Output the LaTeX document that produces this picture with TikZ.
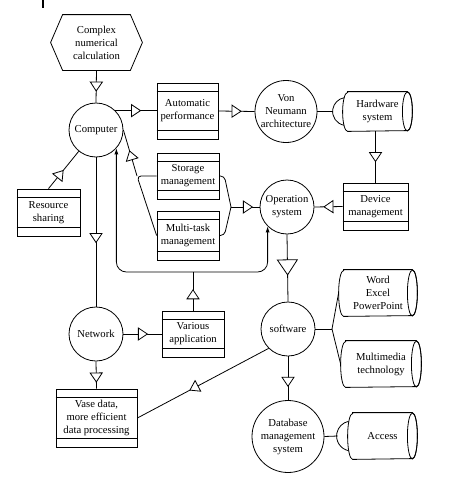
\documentclass[tikz,border=0pt]{standalone}
\usepackage{fontspec}
\setmainfont{Liberation Serif}
\usetikzlibrary{decorations.markings,arrows.meta,calc}

\begin{document}
\begin{tikzpicture}[x=0.75pt,y=0.75pt,yscale=-1,xscale=1,line width=0.6pt,
  every node/.style={font=\fontsize{8}{9.75}\selectfont,align=center,inner sep=0pt},
  circ/.style={circle,draw,fill=white,minimum size=40.5pt},
  procbox/.style={rectangle,draw,fill=white},
  tri/.style={postaction={decorate,decoration={markings,mark=at position #1 with {\draw[fill=white] (4.5,0) -- (-4.5,6) -- (-4.5,-6) -- cycle;}}}},
  bigtri/.style={postaction={decorate,decoration={markings,mark=at position #1 with {\draw[fill=white] (7.5,0) -- (-7.5,10) -- (-7.5,-10) -- cycle;}}}},
  twoway/.style={{Latex[length=4.5pt,width=3pt]}-{Latex[length=4.5pt,width=3pt]},rounded corners=7.5pt}]
\useasboundingbox (0,0) rectangle (459,489);

%Straight Lines
\draw [line width=1.5pt] (43,0) -- (43,8) ;

%Shape: Hexagon
\node (Complex) at (96.5,42.5) [minimum width=68.25pt,minimum height=41.25pt] {Complex\\numerical\\calculation};
\draw ($(Complex.north west)+(12,0)$) -- ($(Complex.north east)+(-12,0)$) -- (Complex.east) -- ($(Complex.south east)+(-12,0)$) -- ($(Complex.south west)+(12,0)$) -- (Complex.west) -- cycle ;

%Shape: Circle
\node [circ] (Computer) at (96,130) {Computer};
\node [circ,minimum size=46.5pt] (VonNeumann) at (286,111.5) {Von\\Neumann\\architecture};
\node [circ] (OS) at (287,207) {Operation\\system};
\node [circ] (Network) at (96,334) {Network};
\node [circ] (Software) at (288,329) {software};
\node [circ,minimum size=54pt] (DBMS) at (288,436.5) {Database\\management\\system};

%Shape: Rectangle
\node [procbox,minimum width=45.75pt,minimum height=42pt] (Automatic) at (187.5,111) {Automatic\\performance};
\node [procbox,minimum width=46.5pt,minimum height=34.5pt] (Storage) at (188,176) {Storage\\management};
\node [procbox,minimum width=46.5pt,minimum height=36.75pt] (Multitask) at (188,235.5) {Multi-task\\management};
\node [procbox,minimum width=47.25pt,minimum height=35.25pt] (Resource) at (48.5,212.5) {Resource\\sharing};
\node [procbox,minimum width=48.75pt,minimum height=35.25pt] (Device) at (375.5,206.5) {Device\\management};
\node [procbox,minimum width=46.5pt,minimum height=34.5pt] (Various) at (193,334) {Various\\application};
\node [procbox,minimum width=60.75pt,minimum height=43.5pt] (Vase) at (96.5,418) {Vase data,\\more efficient\\data processing};
\foreach \b in {Automatic,Storage,Multitask,Resource,Device,Various,Vase}
  \draw ($(\b.north west)+(0,9)$) -- ($(\b.north east)+(0,9)$) ($(\b.south west)+(0,-9)$) -- ($(\b.south east)+(0,-9)$) ;

%Shape: Can
\node [minimum width=51.75pt,minimum height=29.25pt] (Hardware) at (377.5,111.5) {Hardware\\system};
\node [minimum width=58.5pt,minimum height=34.5pt] (Office) at (378,293) {Word\\Excel\\PowerPoint};
\node [minimum width=60pt,minimum height=34.5pt] (Multimedia) at (381,364) {Multimedia\\technology};
\node [minimum width=51.75pt,minimum height=34.5pt] (Access) at (382.5,436) {Access};
\foreach \c/\r in {Hardware/19.5,Office/23,Multimedia/23,Access/23}{
  \draw ($(\c.north west)+(5,0)$) -- ($(\c.north east)+(-5,0)$) arc [start angle=-90,end angle=90,x radius=5,y radius=\r] -- ($(\c.south west)+(5,0)$) arc [start angle=90,end angle=270,x radius=5,y radius=\r] -- cycle ;
  \draw ($(\c.east)+(-5,0)$) ellipse [x radius=5,y radius=\r] ;
}

\coordinate (f1) at (137,176);
\coordinate (f2) at (231,207);
\coordinate (f3) at (332,329);
\coordinate (loop) at (0,272);

%Straight Lines
\draw [tri=0.5] (Complex.south) -- (Computer.north) ;
\draw [tri=0.5] (Computer.45) -- (Computer.45 -| Automatic.west) ;
\draw [tri=0.5] (Automatic.east) -- (VonNeumann.west) ;
\draw (VonNeumann.east) -- ($(Hardware.west)+(-10,0)$) ;
\draw ($(Hardware.west)+(4,0)$) ++(100:14) arc [start angle=100,end angle=260,radius=14] ;
\draw [tri=0.5] (Device.north |- Hardware.south) -- (Device.north) ;
\draw [tri=0.5] (Device.west) -- (OS.east) ;
\draw [tri=0.59] (f2) -- (OS.west) ;
\draw [rounded corners=3pt] (Storage.east) -- ++(5,0) -- (f2) ;
\draw [rounded corners=3pt] (Multitask.east) -- ++(5,0) -- (f2) ;
\draw [tri=0.45] (f1) -- (Computer.east) ;
\draw [rounded corners=3pt] (Storage.west) -- (f1) -- (Multitask.west) ;
\draw [tri=0.39] (Resource.north) -- (Computer) ;
\draw [tri=0.54] (Computer.south) -- (Network.north) ;
\draw [tri=0.51] (Network.east) -- (Various.west) ;
\draw [tri=0.59] (Network.south) -- (Vase.north) ;
\draw [tri=0.42] (Various.north) -- (Various.north |- loop) ;
\draw [twoway] (Computer.-42) -- (Computer.-42 |- loop) -- (OS.225 |- loop) -- (OS.225) ;
\draw [bigtri=0.49] (OS.south) -- (Software.north) ;
\draw (Software.east) -- (f3) ;
\draw (f3) -- (Office.west) ;
\draw (f3) -- (Multimedia.west) ;
\draw [tri=0.58] (Software.south) -- (DBMS.north) ;
\draw [tri=0.57] (Software.225) -- (Vase.east) ;
\draw (DBMS.east) -- ($(Access.west)+(-10,0)$) ;
\draw ($(Access.west)+(4,0)$) ++(102:15) arc [start angle=102,end angle=258,radius=15] ;

\end{tikzpicture}
\end{document}
